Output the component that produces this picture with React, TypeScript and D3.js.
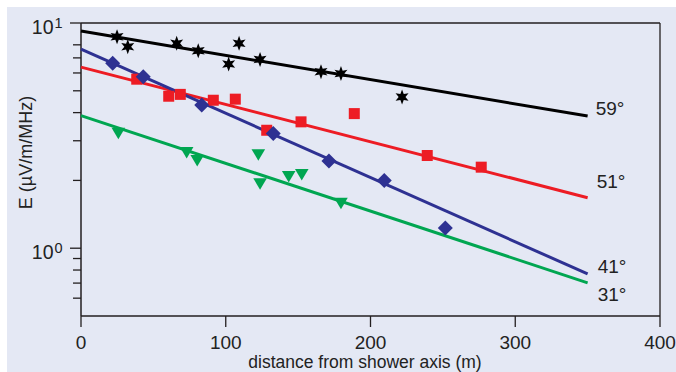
import React from "react";
import * as d3 from "d3";

const W = 676;
const H = 372;

// tick values
const xTicks = [0, 100, 200, 300, 400];
const yMajor = [1, 10];
const yMajorExp = ["0", "1"];
const yMinor = [0.6, 0.7, 0.8, 0.9, 2, 3, 4, 5, 6, 7, 8];

// fit lines (distance endpoints, E values)
const fitDist = [0, 350];
const fit59 = [9.21, 3.86];
const fit51 = [6.37, 1.676];
const fit41 = [7.66, 0.769];
const fit31 = [3.88, 0.702];

// measured points
const starD = [24.9, 32.3, 66.1, 81.0, 102.0, 109.2, 123.7, 165.8, 179.6, 221.8];
const starE = [8.69, 7.85, 8.12, 7.53, 6.57, 8.12, 6.89, 6.08, 5.96, 4.69];

const squareD = [38.5, 60.6, 68.6, 91.4, 106.6, 128.3, 152.0, 188.8, 239.2, 276.5];
const squareE = [5.63, 4.73, 4.82, 4.54, 4.59, 3.34, 3.64, 3.96, 2.58, 2.29];

const diamondD = [21.9, 43.0, 83.4, 132.8, 171.3, 209.5, 251.7];
const diamondE = [6.62, 5.77, 4.32, 3.23, 2.44, 2.0, 1.23];

const triD = [25.8, 73.0, 80.3, 122.5, 123.7, 143.5, 152.5, 179.6];
const triE = [3.25, 2.67, 2.46, 2.61, 1.94, 2.09, 2.13, 1.59];

const angleLabels = ["59°", "51°", "41°", "31°"];

const BLACK = "#000000";
const RED = "#ed1c24";
const BLUE = "#2e3192";
const GREEN = "#00a651";
const AXIS = "#231f20";
const BG = "#e4e8f4";
const FONT = "'Liberation Sans', Arial, Helvetica, sans-serif";

export default function App() {
  const x = d3.scaleLinear().domain([0, 400]).range([81, 660]);
  const y = d3.scaleLog().domain([0.5, 10]).range([316, 23]);

  const line = d3
    .line<[number, number]>()
    .x((d) => x(d[0]))
    .y((d) => y(d[1]));

  const fits = [
    { vals: fit59, color: BLACK, label: angleLabels[0], dx: 8, dy: -1 },
    { vals: fit51, color: RED, label: angleLabels[1], dx: 9, dy: -10 },
    { vals: fit41, color: BLUE, label: angleLabels[2], dx: 10, dy: -1 },
    { vals: fit31, color: GREEN, label: angleLabels[3], dx: 10, dy: 18 },
  ];

  const starPath = (() => {
    const pts: [number, number][] = [];
    const ro = 7.5;
    const ri = 3.4;
    for (let i = 0; i < 12; i++) {
      const a = (Math.PI / 6) * i - Math.PI / 2;
      const r = i % 2 === 0 ? ro : ri;
      pts.push([r * Math.cos(a), r * Math.sin(a)]);
    }
    return "M" + pts.map((p) => p.join(",")).join("L") + "Z";
  })();

  const triPath = "M-6.8,-5.2L6.8,-5.2L0,6.3Z";
  const diamondPath = "M0,-7.5L7.5,0L0,7.5L-7.5,0Z";

  const left = x(0);
  const right = x(400);
  const top = y(10);
  const bottom = y(0.5);

  return (
    <svg
      width={W}
      height={H}
      style={{ position: "absolute", left: 0, top: 0 }}
      fontFamily={FONT}
    >
      <rect x={7} y={7} width={W - 7} height={H - 7} fill={BG} />

      {/* frame */}
      <line x1={left} y1={top} x2={right} y2={top} stroke={AXIS} strokeWidth={1.3} />
      <line x1={right} y1={top} x2={right} y2={bottom} stroke={AXIS} strokeWidth={1.3} />
      <line x1={left} y1={bottom} x2={right} y2={bottom} stroke={AXIS} strokeWidth={1.5} />
      <line x1={left} y1={top} x2={left} y2={bottom} stroke={AXIS} strokeWidth={1.5} />

      {/* x ticks */}
      {xTicks.map((t) => (
        <g key={"xt" + t}>
          <line x1={x(t)} x2={x(t)} y1={bottom} y2={bottom + 11} stroke={AXIS} strokeWidth={1.3} />
          <text x={x(t)} y={349} textAnchor="middle" fontSize={19} fill="#222">
            {t}
          </text>
        </g>
      ))}

      {/* y ticks */}
      {yMinor.map((t) => (
        <line key={"ym" + t} x1={left - 8} x2={left} y1={y(t)} y2={y(t)} stroke={AXIS} strokeWidth={1.3} />
      ))}
      {yMajor.map((t, i) => (
        <g key={"yM" + t}>
          <line x1={left - 11} x2={left} y1={y(t)} y2={y(t)} stroke={AXIS} strokeWidth={1.3} />
          <text x={53.5} y={y(t) + 11} textAnchor="end" fontSize={19.5} fill="#222">
            10
          </text>
          <text x={54.5} y={y(t) + 5} textAnchor="start" fontSize={14.5} fill="#222">
            {yMajorExp[i]}
          </text>
        </g>
      ))}

      {/* axis titles */}
      <text x={365} y={368} textAnchor="middle" fontSize={17.5} fill="#222">
        distance from shower axis (m)
      </text>
      <text
        transform={`translate(31.5,152.5) rotate(-90)`}
        textAnchor="middle"
        fontSize={18}
        fill="#222"
      >
        E (µV/m/MHz)
      </text>

      {/* fit lines */}
      {fits.map((f, i) => (
        <path
          key={"fit" + i}
          d={line(fitDist.map((d, j) => [d, f.vals[j]] as [number, number])) || ""}
          fill="none"
          stroke={f.color}
          strokeWidth={3}
        />
      ))}

      {/* markers */}
      {triD.map((d, i) => (
        <path key={"tri" + i} d={triPath} transform={`translate(${x(d)},${y(triE[i])})`} fill={GREEN} />
      ))}
      {squareD.map((d, i) => (
        <rect key={"sq" + i} x={x(d) - 5.5} y={y(squareE[i]) - 5.5} width={11} height={11} fill={RED} />
      ))}
      {diamondD.map((d, i) => (
        <path key={"dm" + i} d={diamondPath} transform={`translate(${x(d)},${y(diamondE[i])})`} fill={BLUE} />
      ))}
      {starD.map((d, i) => (
        <path key={"st" + i} d={starPath} transform={`translate(${x(d)},${y(starE[i])})`} fill={BLACK} />
      ))}

      {/* angle labels */}
      {fits.map((f, i) => (
        <text
          key={"lab" + i}
          x={x(fitDist[1]) + f.dx}
          y={y(f.vals[1]) + f.dy}
          fontSize={19}
          fill="#222"
        >
          {f.label}
        </text>
      ))}
    </svg>
  );
}
